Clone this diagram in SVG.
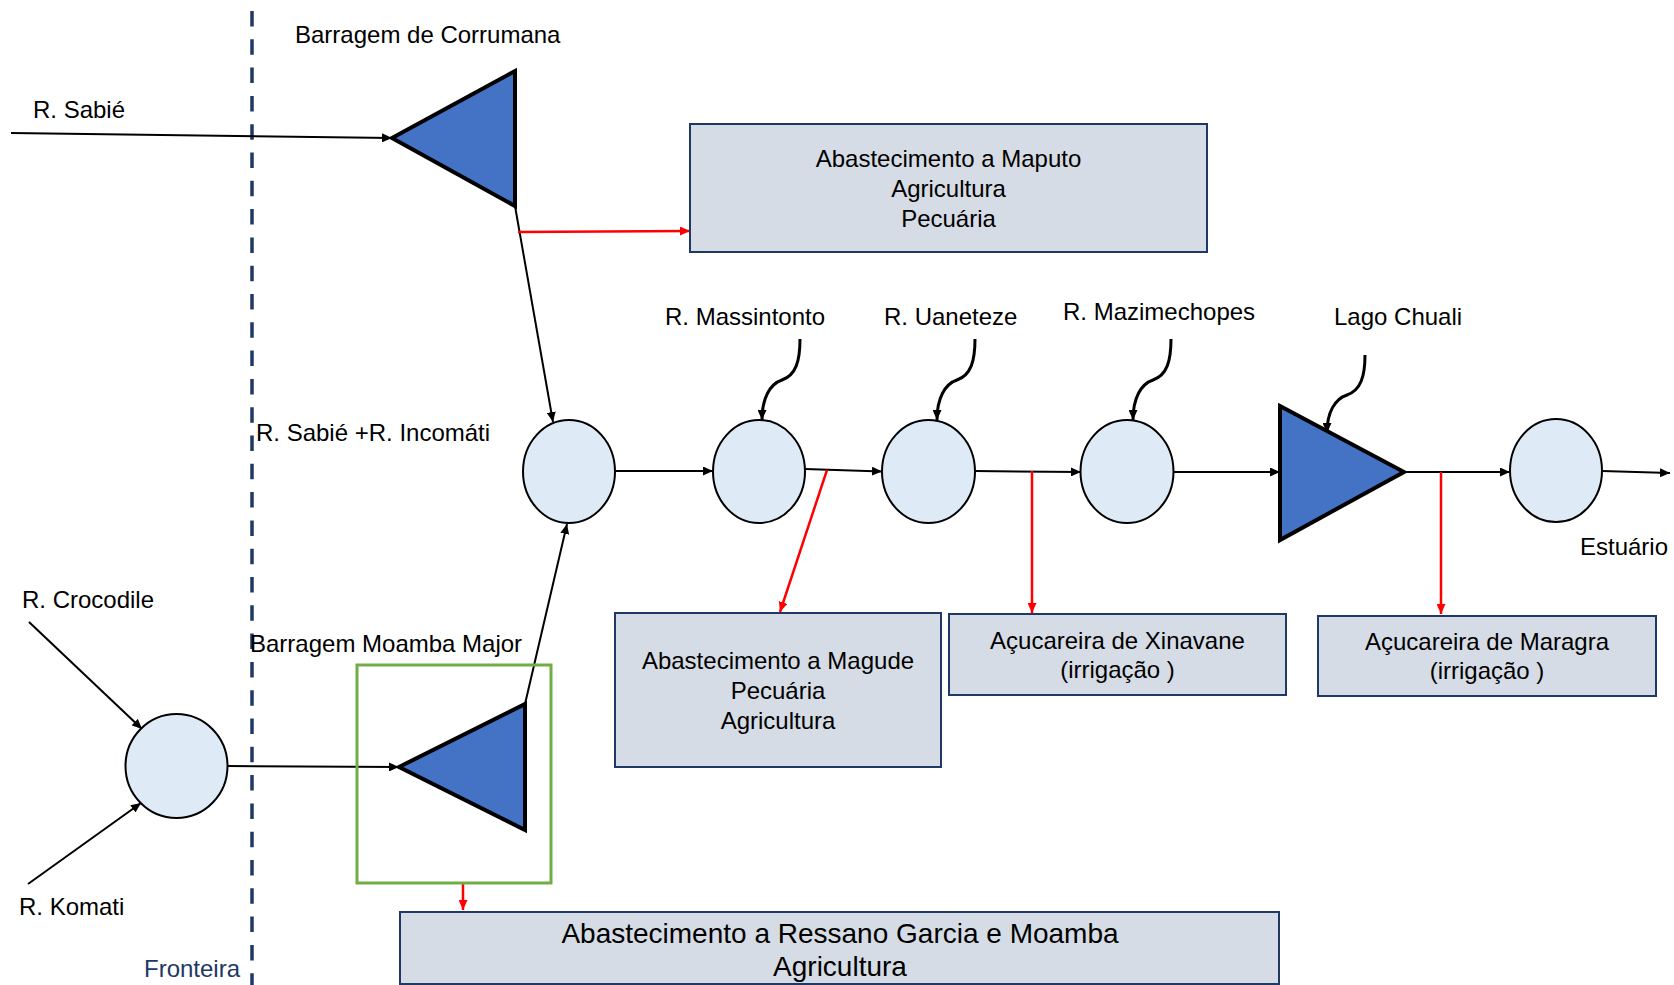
<svg xmlns="http://www.w3.org/2000/svg" width="1674" height="985" viewBox="0 0 1674 985">
<defs>
<style>
text{font-family:"Liberation Sans",Arial,sans-serif;font-size:24px;fill:#000}
.mid{text-anchor:middle}
.big{font-size:28px}
.box{fill:#D6DCE5;stroke:#203864;stroke-width:2}
.node{fill:#DEEBF7;stroke:#000;stroke-width:2}
.dam{fill:#4472C4;stroke:#000;stroke-width:4;stroke-linejoin:miter}
.flow{fill:none;stroke:#000;stroke-width:2;marker-end:url(#ab)}
.use{fill:none;stroke:#FF0000;stroke-width:2.5;marker-end:url(#ar)}
.curve{fill:none;stroke:#000;stroke-width:3;marker-end:url(#ab)}
</style>
<marker id="ab" markerUnits="userSpaceOnUse" markerWidth="11" markerHeight="9" refX="10" refY="4.5" orient="auto" viewBox="0 0 11 9"><path d="M0,0 L10,4.5 L0,9 z" fill="#000"/></marker>
<marker id="ar" markerUnits="userSpaceOnUse" markerWidth="11" markerHeight="9" refX="10" refY="4.5" orient="auto" viewBox="0 0 11 9"><path d="M0,0 L10,4.5 L0,9 z" fill="#FF0000"/></marker>
</defs>
<rect width="1674" height="985" fill="#fff"/>

<g id="fronteira">
<line x1="252" y1="11" x2="252" y2="985" stroke="#1F3864" stroke-width="3.5" stroke-dasharray="15.5 12.8"/>
<text x="144" y="977" style="fill:#203864">Fronteira</text>
</g>

<g id="connectors">
<path class="flow" d="M11,133 L392,138"/>
<path class="flow" d="M515,206 L553,422"/>
<path class="use" d="M518,232 L690,231"/>
<path class="flow" d="M29,622 L142,729"/>
<path class="flow" d="M28,884 L141,803"/>
<path class="flow" d="M228,766 L399,767"/>
<path class="flow" d="M525,704 L567,524"/>
<path class="use" d="M463,884 L463,910"/>
<path class="flow" d="M615,471 L713,471"/>
<path class="flow" d="M805,469 L882,471.5"/>
<path class="flow" d="M975,471 L1081,472"/>
<path class="flow" d="M1173,472 L1280,472"/>
<path class="flow" d="M1404,472 L1510,472"/>
<path class="flow" d="M1602,471 L1670,473"/>
<path class="use" d="M827,470 L780,612"/>
<path class="use" d="M1032,471 L1032,613"/>
<path class="use" d="M1441,472 L1441,614"/>
<path class="curve" d="M800,339 C800,361 796,375 782,380 C770,384 762,398 762,420"/>
<path class="curve" d="M975,339 C975,361 971,375 957,380 C945,384 937,398 937,420"/>
<path class="curve" d="M1171,339 C1171,361 1167,375 1153,380 C1141,384 1133,398 1133,420"/>
<path class="curve" d="M1365,355 C1365,376 1361,390 1347,395 C1335,399 1327,412 1327,433"/>
</g>

<g id="label-sabie"><text x="33" y="118">R. Sabié</text></g>
<g id="label-crocodile"><text x="22" y="608">R. Crocodile</text></g>
<g id="label-komati"><text x="19" y="915">R. Komati</text></g>
<g id="label-sabie-incomati"><text x="256" y="441">R. Sabié +R. Incomáti</text></g>
<g id="label-massintonto"><text x="665" y="325">R. Massintonto</text></g>
<g id="label-uaneteze"><text x="884" y="325">R. Uaneteze</text></g>
<g id="label-mazimechopes"><text x="1063" y="320">R. Mazimechopes</text></g>
<g id="label-estuario"><text x="1580" y="555">Estuário</text></g>

<g id="barragem-corrumana">
<polygon class="dam" points="392,138 515,71 515,206"/>
<text x="295" y="43">Barragem de Corrumana</text>
</g>

<g id="barragem-moamba">
<rect x="357" y="665" width="194" height="218" fill="none" stroke="#70AD47" stroke-width="3"/>
<polygon class="dam" points="399,767 525,704 525,830"/>
<text x="250" y="652">Barragem Moamba Major</text>
</g>

<g id="lago-chuali">
<polygon class="dam" points="1280,406 1404,472 1280,540"/>
<text x="1334" y="325">Lago Chuali</text>
</g>

<g id="confluencia-komati"><ellipse class="node" cx="176.5" cy="766" rx="51" ry="52"/></g>
<g id="no-sabie-incomati"><ellipse class="node" cx="569" cy="471.5" rx="46" ry="51.5"/></g>
<g id="no-massintonto"><ellipse class="node" cx="759" cy="471.5" rx="46" ry="51.5"/></g>
<g id="no-uaneteze"><ellipse class="node" cx="928.5" cy="471.5" rx="46.5" ry="51.5"/></g>
<g id="no-mazimechopes"><ellipse class="node" cx="1127" cy="471.5" rx="46.5" ry="51.5"/></g>
<g id="no-estuario"><ellipse class="node" cx="1556" cy="470.5" rx="46" ry="51.5"/></g>

<g id="box-maputo">
<rect class="box" x="690" y="124" width="517" height="128"/>
<text class="mid" x="948.5" y="167">Abastecimento a Maputo</text>
<text class="mid" x="948.5" y="197">Agricultura</text>
<text class="mid" x="948.5" y="227">Pecuária</text>
</g>

<g id="box-magude">
<rect class="box" x="615" y="613" width="326" height="154"/>
<text class="mid" x="778" y="669">Abastecimento a Magude</text>
<text class="mid" x="778" y="699">Pecuária</text>
<text class="mid" x="778" y="729">Agricultura</text>
</g>

<g id="box-xinavane">
<rect class="box" x="949" y="614" width="337" height="81"/>
<text class="mid" x="1117.5" y="649">Açucareira de Xinavane</text>
<text class="mid" x="1117.5" y="678">(irrigação )</text>
</g>

<g id="box-maragra">
<rect class="box" x="1318" y="616" width="338" height="80"/>
<text class="mid" x="1487" y="650">Açucareira de Maragra</text>
<text class="mid" x="1487" y="679">(irrigação )</text>
</g>

<g id="box-ressano">
<rect class="box" x="400" y="912" width="879" height="72"/>
<text class="mid big" x="840" y="943">Abastecimento a Ressano Garcia e Moamba</text>
<text class="mid big" x="840" y="976">Agricultura</text>
</g>
</svg>
